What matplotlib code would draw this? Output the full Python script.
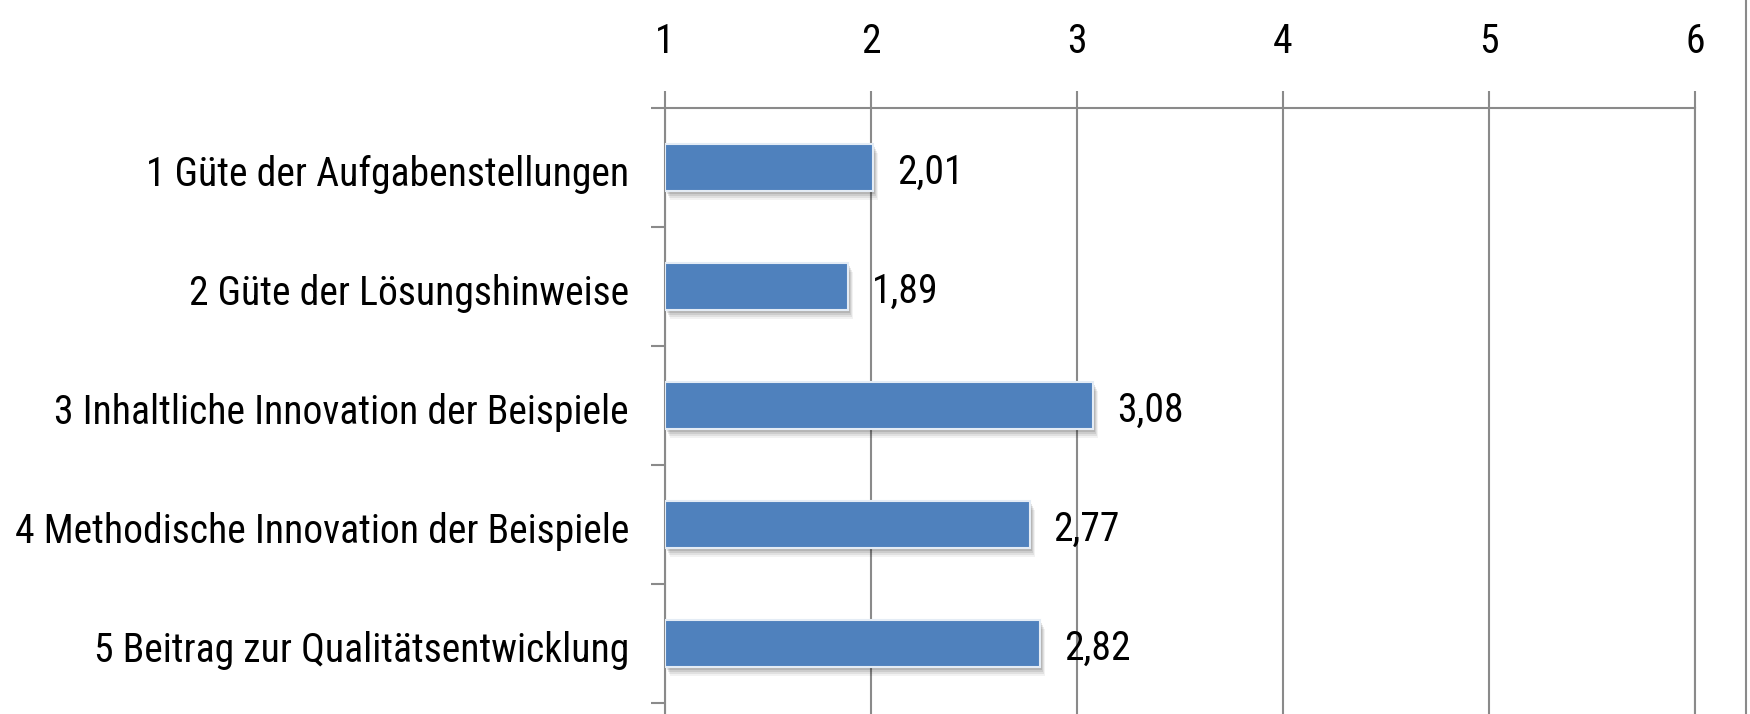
import matplotlib
matplotlib.use("Agg")
import matplotlib.pyplot as plt
import matplotlib.transforms as mtransforms
from matplotlib import font_manager
import numpy as np

categories = [
    "1 Güte der Aufgabenstellungen",
    "2 Güte der Lösungshinweise",
    "3 Inhaltliche Innovation der Beispiele",
    "4 Methodische Innovation der Beispiele",
    "5 Beitrag zur Qualitätsentwicklung",
]
values = [2.01, 1.89, 3.08, 2.77, 2.82]
value_labels = ["2,01", "1,89", "3,08", "2,77", "2,82"]
x_ticks = [1, 2, 3, 4, 5, 6]

installed = {f.name for f in font_manager.fontManager.ttflist}
prefs = ['Roboto Condensed', 'Liberation Sans Narrow', 'Open Sans Condensed', 'Lato', 'Roboto']
fams = [f for f in prefs if f in installed] + ['DejaVu Sans']
plt.rcParams['font.family'] = fams
FS = 27
GRAY = '#8a8a8a'
BLUE = '#4f81bd'

fig = plt.figure(figsize=(17.5, 7.14), dpi=100)
W, H = 1750, 714
ax = fig.add_axes([665 / W, 0, (1695 - 665) / W, 1 - 108 / H])

y = np.arange(len(categories))
base = x_ticks[0]
bar_h = 0.4

# drop shadow
for k, (dx, dy, a) in enumerate([(2, -3, 0.11), (3, -5, 0.09), (4, -7, 0.07), (5, -9, 0.05)]):
    tr = mtransforms.offset_copy(ax.transData, fig=fig, x=dx, y=dy, units='dots')
    ax.barh(y, np.array(values) - base, left=base, height=bar_h, color='black',
            alpha=a, transform=tr, zorder=2, linewidth=0)

ax.barh(y, np.array(values) - base, left=base, height=bar_h, color=BLUE,
        edgecolor='#e4ecf5', linewidth=1.5, zorder=3)

texts = []
for yi, v, lab in zip(y, values, value_labels):
    t = ax.annotate(lab, xy=(v, yi), xytext=(24, -5), textcoords='offset pixels',
                    ha='left', va='center', fontsize=FS, color='black', zorder=4)
    texts.append(t)

ax.set_xlim(1, 6)
ax.set_ylim(4.5 + 11 / 119, -0.5)

ax.xaxis.tick_top()
ax.set_xticks(x_ticks)
ax.set_xticklabels([str(t) for t in x_ticks])
ax.tick_params(axis='x', which='major', length=12, width=1.5, color=GRAY,
               labelsize=FS, pad=22)
ax.grid(axis='x', color=GRAY, linewidth=1.5, zorder=1)

ax.set_yticks(y)
ax.set_yticklabels(categories)
ax.set_yticks(np.arange(-0.5, 5.0, 1.0), minor=True)
ax.tick_params(axis='y', which='major', length=0, labelsize=FS, pad=26)
ax.tick_params(axis='y', which='minor', length=10, width=1.5, color=GRAY)
for lbl in ax.get_yticklabels():
    lbl.set_transform(lbl.get_transform() + mtransforms.ScaledTranslation(0, -3 / 100, fig.dpi_scale_trans))

ax.spines['bottom'].set_visible(False)
for s in ['top', 'left', 'right']:
    ax.spines[s].set_color(GRAY)
    ax.spines[s].set_linewidth(1.5)

# fit font size so that the longest category label spans ~612 px as in the reference
fig.canvas.draw()
r = fig.canvas.get_renderer()
wmax = max(l.get_window_extent(r).width for l in ax.get_yticklabels())
fs = min(FS * 612 / wmax, 29)
ax.tick_params(axis='both', which='major', labelsize=fs)
for t in texts:
    t.set_fontsize(fs)

# chart area right border
fig.add_artist(plt.Line2D([1746 / W, 1746 / W], [0, 1], color=GRAY, linewidth=1.5))

fig.savefig("out.png", dpi=100, facecolor='white')
